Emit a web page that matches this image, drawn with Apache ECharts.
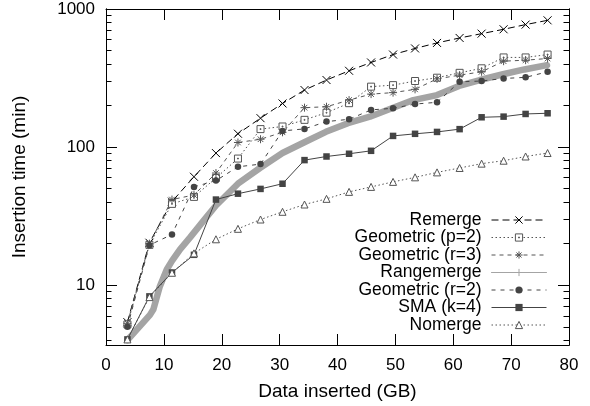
<!DOCTYPE html>
<html>
<head>
<meta charset="utf-8">
<script src="https://cdn.jsdelivr.net/npm/echarts@6/dist/echarts.min.js"></script>
<style>
  html, body { margin: 0; background: #fff; }
  #chart { width: 590px; height: 406px; }
</style>
</head>
<body>
<div id="chart"></div>
<script>
// x positions (GB) shared by the sampled series
const dataGB = [3.7, 7.5, 11.4, 15.2, 19.0, 22.8, 26.7, 30.5, 34.3, 38.1, 42.0, 45.8, 49.6, 53.4, 57.2, 61.1, 64.9, 68.7, 72.5, 76.3];

const remerge = [5.4, 20.3, 40.3, 61, 90.5, 125, 162, 207, 259, 306, 357, 410, 468, 518, 568, 617, 663, 713, 771, 828];
const geoP2 = [5.2, 19.6, 38.8, 43.6, 59.8, 82.6, 135, 141, 157.5, 177.5, 208, 274, 281, 301, 318, 345, 372, 446, 446, 468];
const geoR3 = [5.3, 20.0, 41.7, 45, 64.9, 108, 114, 128, 193, 196, 219, 242, 248, 262, 312, 332, 351, 419, 426, 438];
const geoR2 = [5.0, 19.5, 23.3, 51.5, 57.2, 72, 75.3, 131, 135.5, 153, 159, 186, 191, 205, 211, 297, 301, 314, 320, 351];
const sma = [4.05, 8.3, 12.35, 16.6, 41.7, 46, 49.8, 54.3, 80.5, 85.5, 89.5, 94, 120.5, 124.8, 128.8, 134.9, 164.4, 166.2, 173.8, 175.8];
const nomerge = [4.05, 8.2, 12.3, 17.0, 21.5, 25.6, 29.9, 34, 38.4, 42.2, 47.4, 51.5, 56, 60.4, 65.6, 70.6, 75.9, 79.7, 85.5, 90.6];

// Rangemerge is sampled much more densely
const rangeGB = [3.7, 7.6, 8.2, 9.3, 10.5, 11.4, 12.8, 14.5, 16.8, 19.0, 22.8, 26.6, 30.5, 34.2, 38.0, 41.8, 45.6, 49.4, 53.1, 57.2, 61.0, 64.6, 68.6, 72.3, 76.2];
const rangemerge = [4.0, 6.1, 6.7, 9.8, 13.0, 15.0, 18.2, 22.1, 29.1, 37.8, 54.3, 70.6, 90.6, 108, 129, 149, 166, 191, 219, 238, 277, 306, 337, 365, 392];

const xTicks = [0, 10, 20, 30, 40, 50, 60, 70, 80];
const yMajor = [10, 100, 1000];
const yMinor = [4, 5, 6, 7, 8, 9, 20, 30, 40, 50, 60, 70, 80, 90, 200, 300, 400, 500, 600, 700, 800, 900];

const FONT = 'Liberation Sans, Arial, Helvetica, sans-serif';

const SYM_X = 'path://M0,0L8,8M8,0L0,8';
const SYM_BOX = 'path://M0,0H8V8H0ZM3.5,3.5H4.5V4.5H3.5Z';
const SYM_STAR = 'path://M4,0V8M0,4H8M1.2,1.2L6.8,6.8M6.8,1.2L1.2,6.8';
const SYM_PLUS = 'path://M4,0V8M0,4H8';

function pairs(xs, ys) {
  return xs.map((x, i) => [x, ys[i]]);
}

const styles = [
  { name: 'Remerge', data: pairs(dataGB, remerge), color: '#000', dash: [7, 4], symbol: SYM_X, size: 8, fill: '#000' },
  { name: 'Geometric (p=2)', data: pairs(dataGB, geoP2), color: '#555', dash: [1.5, 2.5], symbol: SYM_BOX, size: 7, fill: '#fff' },
  { name: 'Geometric (r=3)', data: pairs(dataGB, geoR3), color: '#555', dash: [4, 4], symbol: SYM_STAR, size: 8, fill: '#555' },
  { name: 'Rangemerge', data: pairs(rangeGB, rangemerge), color: '#a4a4a4', dash: 'solid', symbol: SYM_PLUS, size: 8, fill: '#a4a4a4', width: 6.5 },
  { name: 'Geometric (r=2)', data: pairs(dataGB, geoR2), color: '#444', dash: [4, 5], symbol: 'circle', size: 6.5, fill: '#444', border: 0 },
  { name: 'SMA (k=4)', data: pairs(dataGB, sma), color: '#444', dash: 'solid', symbol: 'rect', size: 6.5, fill: '#444', border: 0 },
  { name: 'Nomerge', data: pairs(dataGB, nomerge), color: '#555', dash: [1.5, 2.5], symbol: 'triangle', size: 7, fill: '#fff' }
];

const series = styles.map(s => ({
  name: s.name,
  type: 'line',
  data: s.data,
  xAxisIndex: 0,
  yAxisIndex: 0,
  symbol: s.symbol,
  symbolSize: s.size,
  showSymbol: s.name !== 'Rangemerge',
  lineStyle: { color: s.color, width: s.width || 1, type: s.dash, join: 'round', cap: s.width ? 'round' : 'butt' },
  itemStyle: { color: s.fill, borderColor: s.color, borderWidth: s.border === 0 ? 0 : 1 },
  emphasis: { disabled: true }
}));

const legendData = styles.map(s => ({
  name: s.name,
  lineStyle: { color: s.color, width: 1, type: s.dash },
  itemStyle: { color: s.fill, borderColor: s.color, borderWidth: s.border === 0 ? 0 : 1 }
}));

function yAxis(pos, ticks, len, labels) {
  return {
    type: 'log',
    position: pos,
    min: 3.69,
    max: 1000,
    name: labels ? 'Insertion time (min)' : '',
    nameLocation: 'middle',
    nameGap: 77,
    nameTextStyle: { fontFamily: FONT, fontSize: 19, color: '#000' },
    axisLine: { show: true, lineStyle: { color: '#000', width: 1 } },
    axisTick: { show: true, inside: true, length: len, customValues: ticks, lineStyle: { color: '#000', width: 1 } },
    axisLabel: {
      show: labels, customValues: yMajor, margin: 11,
      formatter: v => String(Math.round(v)),
      fontFamily: FONT, fontSize: 17, color: '#000'
    },
    splitLine: { show: false },
    minorTick: { show: false }
  };
}

function xAxis(pos, labels) {
  return {
    type: 'value',
    position: pos,
    min: 0,
    max: 80,
    interval: 10,
    name: labels ? 'Data inserted (GB)' : '',
    nameLocation: 'middle',
    nameGap: 37,
    nameTextStyle: { fontFamily: FONT, fontSize: 19, color: '#000' },
    axisLine: { show: true, onZero: false, lineStyle: { color: '#000', width: 1 } },
    axisTick: { show: true, inside: true, length: 11, customValues: xTicks, lineStyle: { color: '#000', width: 1 } },
    axisLabel: { show: labels, margin: 12, fontFamily: FONT, fontSize: 17, color: '#000' },
    splitLine: { show: false }
  };
}

const chart = echarts.init(document.getElementById('chart'));
chart.setOption({
  animation: false,
  backgroundColor: '#fff',
  grid: { left: 106, right: 21, top: 9, bottom: 60, containLabel: false },
  legend: {
    orient: 'vertical',
    align: 'right',
    right: 43,
    top: 211,
    padding: 0,
    itemWidth: 55,
    itemHeight: 9,
    itemGap: -0.5,
    selectedMode: false,
    lineStyle: { width: 1 },
    textStyle: { fontFamily: FONT, fontSize: 17.5, color: '#000', lineHeight: 16, padding: [0, 5, 0, 0] },
    data: legendData
  },
  xAxis: [xAxis('bottom', true), xAxis('top', false)],
  yAxis: [
    yAxis('left', yMajor, 11, true),
    yAxis('left', yMinor, 5.5, false),
    yAxis('right', yMajor, 11, false),
    yAxis('right', yMinor, 5.5, false)
  ],
  series: series
});
</script>
</body>
</html>
